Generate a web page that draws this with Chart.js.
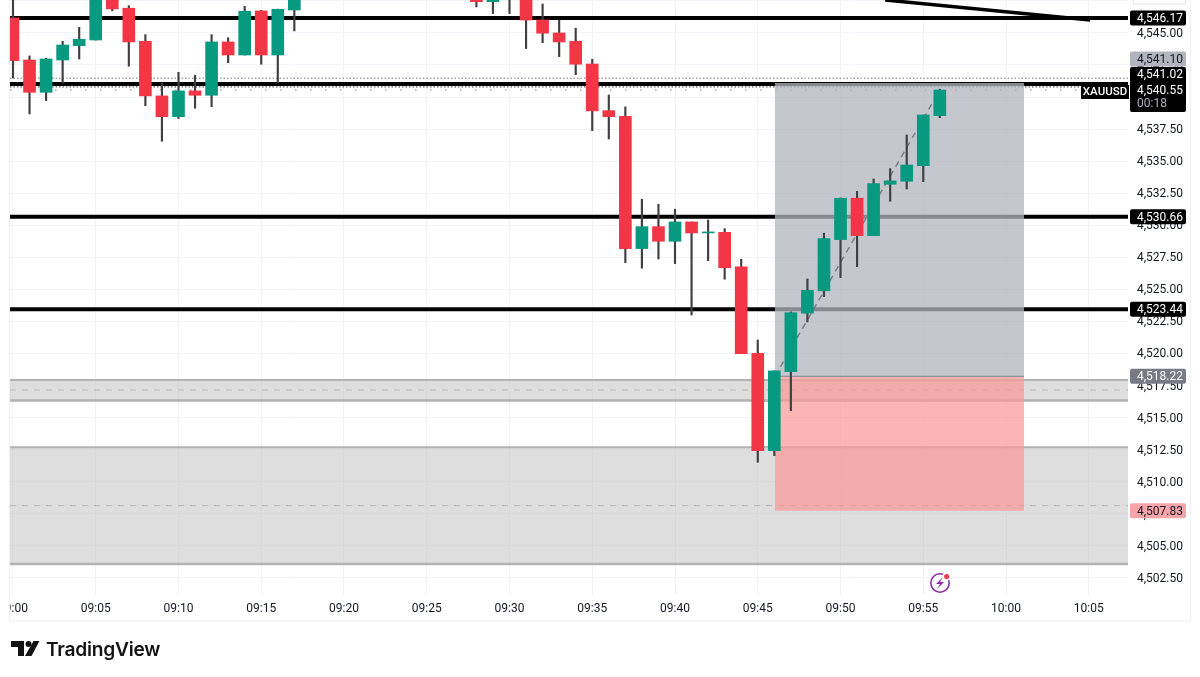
<!DOCTYPE html>
<html>
<head>
<meta charset="utf-8">
<title>XAUUSD</title>
<script src="https://cdn.jsdelivr.net/npm/chart.js@4/dist/chart.umd.min.js"></script>
<style>
  html, body { margin: 0; padding: 0; background: #fff; }
  canvas { display: block; }
</style>
</head>
<body>
<canvas id="chart" width="1200" height="677"></canvas>
<script>
// minutes after 09:00, 09:18-09:27 are above the visible range
const minutes = [0,1,2,3,4,5,6,7,8,9,10,11,12,13,14,15,16,17,
    28,29,30,31,32,33,34,35,36,37,38,39,40,41,42,43,44,45,46,47,48,49,50,51,52,53,54,55,56];
const opens = [4546.17,4542.89,4540.37,4542.89,4544.01,4544.45,4547.96,4546.93,4544.35,4540.09,4538.47,4540.48,4540.14,4544.30,4543.28,4546.72,4543.28,4546.79,
    4547.96,4547.44,4548.20,4547.96,4546.01,4545.00,4544.35,4542.58,4538.94,4538.50,4528.18,4529.89,4528.75,4530.26,4529.40,4529.45,4526.75,4520.02,4512.42,4518.58,4523.14,4524.88,4528.88,4532.11,4529.19,4533.20,4533.43,4534.65,4538.55];
const closes = [4542.84,4540.37,4542.97,4544.06,4544.51,4547.96,4546.87,4544.30,4540.09,4538.47,4540.48,4540.14,4544.30,4543.28,4546.69,4543.28,4546.85,4547.96,
    4547.44,4547.96,4547.81,4546.01,4544.98,4544.30,4542.56,4538.92,4538.47,4528.18,4529.89,4528.75,4530.26,4529.40,4529.48,4526.69,4519.99,4512.42,4518.64,4523.18,4524.93,4528.96,4532.11,4529.19,4533.25,4533.46,4534.70,4538.60,4540.55];
const highs = [4547.96,4543.21,4543.03,4544.35,4545.44,4548.35,4548.20,4547.13,4544.87,4541.10,4541.93,4541.70,4544.87,4544.63,4547.08,4546.76,4546.85,4548.20,
    4548.20,4548.20,4548.35,4548.20,4547.26,4546.01,4545.37,4542.95,4540.16,4539.23,4532.03,4531.64,4531.25,4530.26,4530.41,4529.74,4527.35,4521.05,4518.64,4523.24,4525.81,4529.38,4532.13,4532.65,4533.61,4534.42,4537.04,4538.60,4540.61];
const lows = [4541.49,4538.68,4539.72,4541.10,4542.97,4544.45,4546.72,4542.40,4539.33,4536.55,4538.32,4539.13,4539.25,4542.68,4543.28,4542.56,4541.12,4545.16,
    4547.03,4546.51,4546.51,4543.78,4544.24,4543.15,4541.75,4537.38,4536.73,4527.08,4526.65,4527.37,4527.01,4523.00,4527.24,4525.79,4519.99,4511.51,4512.03,4515.54,4522.46,4524.43,4525.91,4526.77,4529.19,4531.87,4532.83,4533.40,4538.39];

const xMin = -0.18;
const xMax = 67.37;
const yMin = 4501.16;
const yMax = 4547.57;

const supportLevels = [4546.17, 4541.02, 4530.66, 4523.44];
const dottedLevels = [4541.47, 4540.79];
const lastPrice = 4540.55;
const zoneTops = [4517.93, 4512.68];
const zoneBottoms = [4516.33, 4503.58];
const zoneMiddles = [4517.15, 4508.13];
const trendTimes = [52.7, 65.08];
const trendPrices = [4547.57, 4546.01];
const boxTimes = [46.04, 61.09];
const targetPrice = 4541.10;
const entryPrice = 4518.22;
const stopPrice = 4507.74;

const GREEN = '#089981';
const RED = '#f23645';
const FONT = 'Roboto, sans-serif';

function hLine(value, color, width, order, dash) {
    return {
        type: 'line',
        data: [{ x: xMin, y: value }, { x: xMax, y: value }],
        borderColor: color,
        borderWidth: width,
        borderDash: dash || [],
        pointRadius: 0,
        order: order
    };
}

function box(times, top, bottom, color, order) {
    return {
        type: 'line',
        data: [{ x: times[0], y: top }, { x: times[1], y: top }],
        borderWidth: 0,
        pointRadius: 0,
        backgroundColor: color,
        fill: { value: bottom },
        order: order
    };
}

function zoneDatasets() {
    const out = [];
    zoneTops.forEach((top, i) => {
        out.push(box([xMin, xMax], top, zoneBottoms[i], 'rgba(200,200,200,0.6)', 20));
        out.push(hLine(top, '#b2b2b2', 2, 19));
        out.push(hLine(zoneBottoms[i], '#b2b2b2', 2.5, 19));
        out.push(hLine(zoneMiddles[i], '#b8b8b8', 1, 19, [6, 6]));
    });
    return out;
}

const datasets = [
    ...zoneDatasets(),
    ...supportLevels.map(v => hLine(v, '#000', 4, 10)),
    hLine(dottedLevels[0], '#777', 1, 11, [1.5, 2]),
    hLine(dottedLevels[1], '#333', 1, 11, [1.5, 2]),
    hLine(lastPrice, '#a9acb3', 1.5, 11, [1.5, 13.5]),
    {
        type: 'line',
        data: trendTimes.map((t, i) => ({ x: t, y: trendPrices[i] })),
        borderColor: '#000',
        borderWidth: 3.5,
        pointRadius: 0,
        order: 10
    },
    box(boxTimes, targetPrice, entryPrice, 'rgba(178,181,190,0.76)', 8),
    box(boxTimes, entryPrice, stopPrice, 'rgba(250,150,150,0.7)', 8),
    {
        type: 'line',
        data: boxTimes.map(t => ({ x: t, y: entryPrice })),
        borderColor: '#85858d',
        borderWidth: 1,
        pointRadius: 0,
        order: 7
    },
    {
        type: 'line',
        data: [{ x: boxTimes[0], y: entryPrice }, { x: minutes[minutes.length - 1], y: lastPrice }],
        borderColor: 'rgba(110,110,120,0.85)',
        borderWidth: 1.5,
        borderDash: [6, 5],
        pointRadius: 0,
        order: 6
    },
    {
        type: 'bar',
        data: minutes.map((m, i) => ({ x: m, y: [lows[i], highs[i]] })),
        backgroundColor: '#3f3f44',
        barThickness: 1.5,
        grouped: false,
        order: 2
    },
    {
        type: 'bar',
        data: minutes.map((m, i) => ({ x: m, y: [opens[i], closes[i]] })),
        backgroundColor: minutes.map((m, i) => closes[i] >= opens[i] ? GREEN : RED),
        barThickness: 12,
        grouped: false,
        order: 1
    }
];

function priceTag(ctx, y, text, bg, fg) {
    ctx.fillStyle = bg;
    ctx.beginPath();
    ctx.roundRect(1130, y - 7.5, 56, 15, 2);
    ctx.fill();
    ctx.fillStyle = fg;
    ctx.fillText(text, 1137, y + 1);
}

const overlay = {
    id: 'overlay',
    beforeDraw(chart) {
        // price labels sit one pixel lower than canvas "middle" puts them
        const s = chart.scales.y;
        const drawLabels = s.drawLabels;
        s.drawLabels = function (area) {
            chart.ctx.save();
            chart.ctx.translate(0, 1);
            drawLabels.call(s, area);
            chart.ctx.restore();
        };
    },
    afterDraw(chart) {
        const ctx = chart.ctx;
        const y = chart.scales.y;
        ctx.save();

        // the 09:00 label is cut off by the pane edge
        ctx.fillStyle = '#fff';
        ctx.fillRect(0, 596, 10, 24);

        // frame
        ctx.strokeStyle = '#eff0f3';
        ctx.lineWidth = 1;
        ctx.strokeRect(9.5, -2, 1181, 623);

        // clipped tag at the very top of the price axis
        ctx.strokeStyle = '#e4e5ea';
        ctx.strokeRect(1133.5, -4, 52, 8);

        // price tags, the three near the last price are stacked
        ctx.font = '12px ' + FONT;
        ctx.textBaseline = 'middle';
        ctx.textAlign = 'left';
        priceTag(ctx, y.getPixelForValue(supportLevels[0]), '4,546.17', '#000', '#fff');
        priceTag(ctx, y.getPixelForValue(targetPrice) - 24, '4,541.10', '#b2b5be', '#131722');
        ctx.fillStyle = '#000';
        ctx.beginPath();
        ctx.roundRect(1130, 67, 56, 45, 2);
        ctx.fill();
        ctx.fillStyle = '#fff';
        ctx.fillText('4,541.02', 1137, y.getPixelForValue(supportLevels[1]) - 9);
        ctx.fillText('4,540.55', 1137, y.getPixelForValue(lastPrice) + 1);
        ctx.fillStyle = '#b0b3ba';
        ctx.fillText('00:18', 1137, y.getPixelForValue(lastPrice) + 14);
        priceTag(ctx, y.getPixelForValue(supportLevels[2]), '4,530.66', '#000', '#fff');
        priceTag(ctx, y.getPixelForValue(supportLevels[3]), '4,523.44', '#000', '#fff');
        priceTag(ctx, y.getPixelForValue(entryPrice), '4,518.22', '#787b86', '#fff');
        priceTag(ctx, y.getPixelForValue(stopPrice), '4,507.83', '#f8a5aa', '#131722');

        // symbol tag
        ctx.fillStyle = '#000';
        ctx.fillRect(1081, 85, 48, 14);
        ctx.fillStyle = '#fff';
        ctx.font = '500 11.5px ' + FONT;
        ctx.textAlign = 'center';
        ctx.fillText('XAUUSD', 1105, 92.5);

        // bolt icon
        ctx.strokeStyle = '#8e2aa6';
        ctx.lineWidth = 1.6;
        ctx.beginPath();
        ctx.arc(940, 583, 9.2, 0, Math.PI * 2);
        ctx.stroke();
        ctx.fillStyle = '#8e2aa6';
        ctx.beginPath();
        ctx.moveTo(943, 577);
        ctx.lineTo(936, 584);
        ctx.lineTo(940, 584);
        ctx.lineTo(937, 589);
        ctx.lineTo(944, 582);
        ctx.lineTo(940, 582);
        ctx.closePath();
        ctx.fill();
        ctx.fillStyle = '#fff';
        ctx.beginPath();
        ctx.arc(946.7, 576.5, 4, 0, Math.PI * 2);
        ctx.fill();
        ctx.fillStyle = '#ef3b50';
        ctx.beginPath();
        ctx.arc(946.7, 576.5, 2.6, 0, Math.PI * 2);
        ctx.fill();

        // TradingView logo
        ctx.fillStyle = '#131313';
        ctx.fillRect(11, 641, 13, 6);
        ctx.fillRect(18, 647, 6, 9);
        ctx.beginPath();
        ctx.arc(28.5, 644, 3, 0, Math.PI * 2);
        ctx.fill();
        ctx.beginPath();
        ctx.moveTo(33.5, 641);
        ctx.lineTo(39.5, 641);
        ctx.lineTo(31.5, 656);
        ctx.lineTo(25, 656);
        ctx.closePath();
        ctx.fill();
        ctx.font = '600 19.2px Inter, sans-serif';
        ctx.letterSpacing = '-0.25px';
        ctx.textAlign = 'left';
        ctx.textBaseline = 'alphabetic';
        ctx.fillText('TradingView', 46, 656);

        ctx.restore();
    }
};

// labels must not push the pane inwards
function noPadding(s) {
    s.paddingLeft = 0;
    s.paddingRight = 0;
    s.paddingTop = 0;
    s.paddingBottom = 0;
}

new Chart(document.getElementById('chart'), {
    data: { datasets: datasets },
    plugins: [overlay],
    options: {
        responsive: false,
        animation: false,
        layout: { autoPadding: false, padding: { left: 10, right: 10, top: 0, bottom: 56 } },
        plugins: { legend: { display: false }, tooltip: { enabled: false } },
        scales: {
            x: {
                type: 'linear',
                min: xMin,
                max: xMax,
                offset: false,
                afterFit: s => { s.height = 26; noPadding(s); },
                border: { display: false },
                grid: { color: '#f2f3f6', drawTicks: false, offset: false },
                ticks: {
                    stepSize: 5,
                    includeBounds: false,
                    autoSkip: false,
                    maxRotation: 0,
                    padding: 6.5,
                    color: '#131722',
                    font: { family: FONT, size: 12 },
                    callback: v => {
                        const total = 9 * 60 + v;
                        return String(Math.floor(total / 60)).padStart(2, '0') + ':' + String(total % 60).padStart(2, '0');
                    }
                }
            },
            y: {
                position: 'right',
                min: yMin,
                max: yMax,
                afterFit: s => { s.width = 62; noPadding(s); },
                border: { display: false },
                grid: { color: '#f2f3f6', drawTicks: false },
                ticks: {
                    stepSize: 2.5,
                    includeBounds: false,
                    autoSkip: false,
                    padding: 9,
                    color: '#131722',
                    font: { family: FONT, size: 12 },
                    callback: v => v > 4546 ? '' : v.toLocaleString('en-US', { minimumFractionDigits: 2, maximumFractionDigits: 2 })
                }
            }
        }
    }
});
</script>
</body>
</html>
